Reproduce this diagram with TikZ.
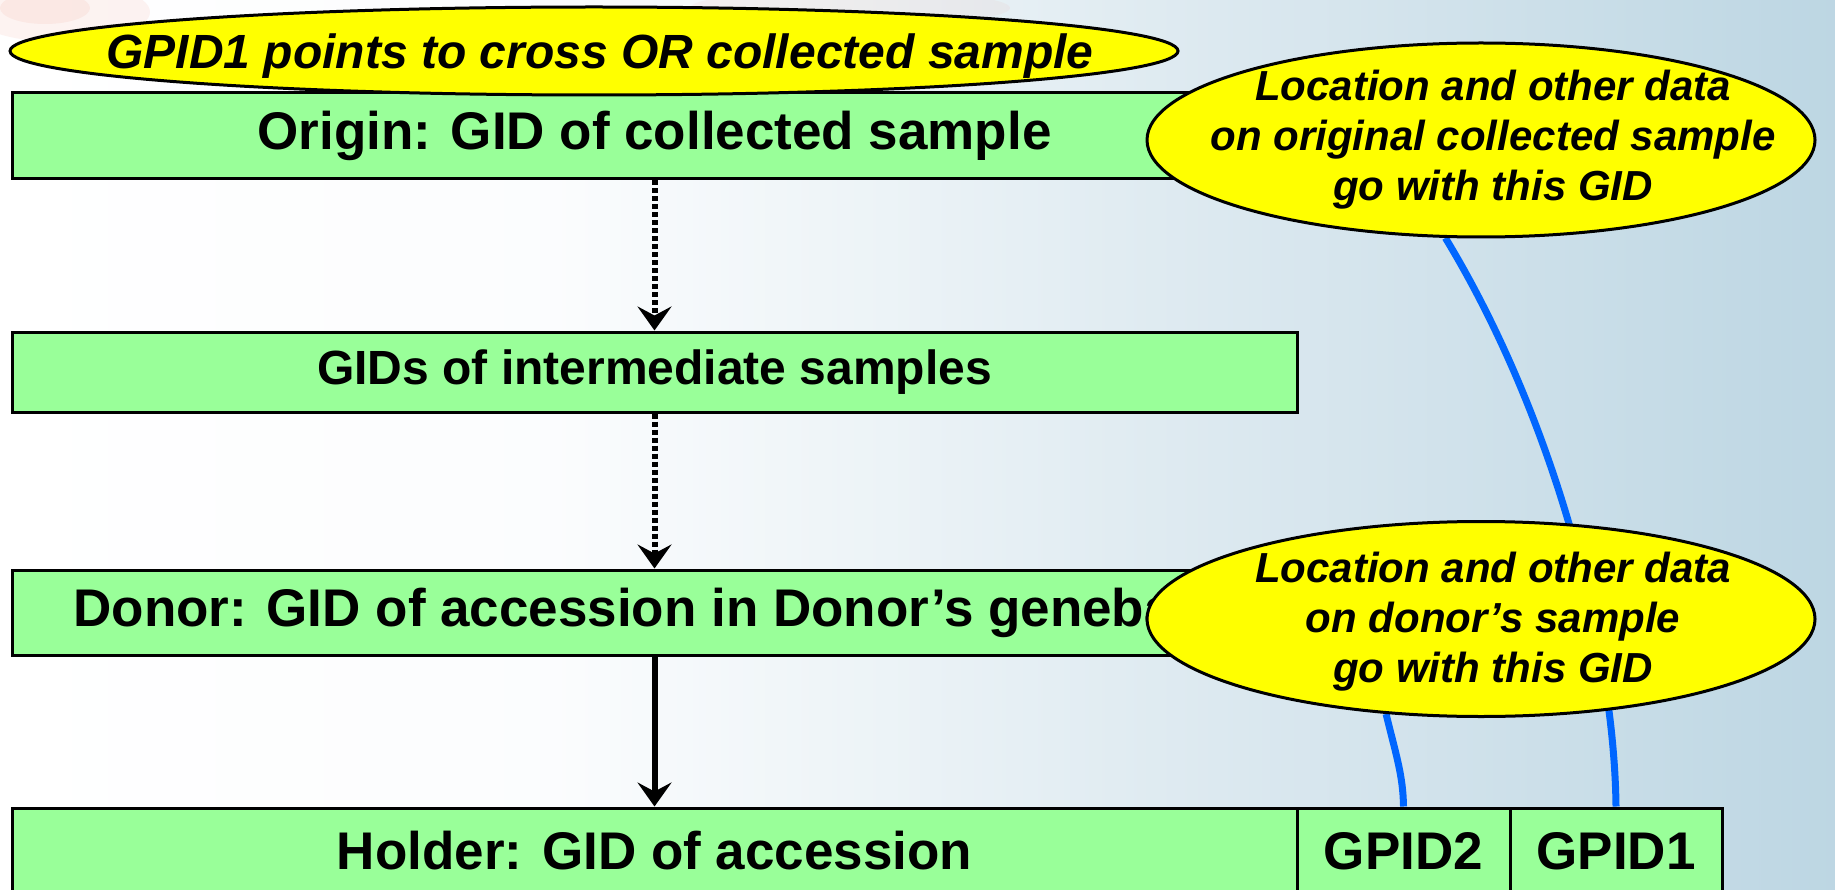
\documentclass[tikz,border=0pt]{standalone}
\usepackage{fontspec}
\setmainfont{Liberation Sans}
\usetikzlibrary{shapes.geometric,arrows.meta}
\definecolor{boxgreen}{RGB}{153,255,153}
\definecolor{callyellow}{RGB}{255,255,0}
\definecolor{linkblue}{RGB}{0,102,255}
\definecolor{logored}{RGB}{230,90,70}
\pgfdeclarehorizontalshading{bgshade}{100bp}{
  rgb(0bp)=(1,1,1);
  rgb(25bp)=(1,1,1);
  rgb(40bp)=(0.985,0.99,0.995);
  rgb(50bp)=(0.92,0.95,0.965);
  rgb(60bp)=(0.85,0.905,0.935);
  rgb(75bp)=(0.74,0.84,0.89);
  rgb(100bp)=(0.74,0.84,0.89)}
\pgfdeclarelayer{bg}
\pgfdeclarelayer{links}
\pgfsetlayers{bg,links,main}
\begin{document}
\begin{tikzpicture}[x=1pt,y=-1pt,
  gbox/.style={draw=black, line width=3pt, fill=boxgreen, inner sep=0pt,
    minimum height=86pt, font=\fontsize{53}{60}\selectfont\bfseries},
  callout/.style={draw=black, line width=3pt, fill=callyellow, ellipse, inner sep=0pt},
  calltext/.style={align=center, inner sep=0pt, font=\fontsize{42}{50}\selectfont\bfseries\itshape},
  flowdot/.style={line width=6pt, dash pattern=on 5pt off 3pt,
    -{Stealth[length=24pt, width=34pt, inset=9pt]}},
  flowsolid/.style={line width=6pt, -{Stealth[length=24pt, width=34pt, inset=9pt]}},
  bluelink/.style={draw=linkblue, line width=7pt}
]
\useasboundingbox (0,0) rectangle (1835,890);
\begin{pgfonlayer}{bg}
  \shade[shading=bgshade] (0,0) rectangle (1835,890);
  \fill[logored, opacity=0.07] (60,12) ellipse [x radius=90pt, y radius=30pt];
  \fill[logored, opacity=0.07] (45,8) ellipse [x radius=45pt, y radius=16pt];
  \fill[logored, opacity=0.05] (850,8) ellipse [x radius=160pt, y radius=18pt];
\end{pgfonlayer}

% boxes
\node[gbox, minimum width=1285pt, minimum height=86pt] (origin) at (654.5,136) {Origin: GID of collected sample};
\node[gbox, minimum width=1285pt, minimum height=80pt, font=\fontsize{48}{56}\selectfont\bfseries] (inter) at (654.5,372) {GIDs of intermediate samples};
\node[gbox, minimum width=1285pt, minimum height=85pt] (donor) at (654.5,612.5) {Donor: GID of accession in Donor’s genebank};
\node[gbox, minimum width=1285pt] (holder) at (654.5,851) {Holder: GID of accession};
\node[gbox, minimum width=213pt] (g2) at (1403.5,851) {GPID2};
\node[gbox, minimum width=212pt] (g1) at (1616,851) {GPID1};

% arrows
\draw[flowdot] (origin.south) -- (inter.north);
\draw[flowdot] (inter.south) -- (donor.north);
\draw[flowsolid] (donor.south) -- (holder.north);

% callouts
\node[callout, minimum width=1168pt, minimum height=88pt] (e0) at (594,51) {};
\node[font=\fontsize{48}{56}\selectfont\bfseries\itshape, inner sep=0pt] (t0) at (600,56) {GPID1 points to cross OR collected sample};

\node[callout, minimum width=668pt, minimum height=194pt] (e2) at (1481,140) {};
\node[calltext] (t2) at (1493,140) {Location and other data\\on original collected sample\\go with this GID};

\node[callout, minimum width=668pt, minimum height=195pt] (e3) at (1481,619) {};
\node[calltext] (t3) at (1493,622) {Location and other data\\on donor’s sample\\go with this GID};

% blue links
\begin{pgfonlayer}{links}
  \draw[bluelink] (e2.-110) .. controls (1550,410) and (1614,640) .. (g1.north);
  \draw[bluelink] (e3.-135) .. controls (1396,755) and (1403,775) .. (g2.north);
\end{pgfonlayer}
\end{tikzpicture}
\end{document}
